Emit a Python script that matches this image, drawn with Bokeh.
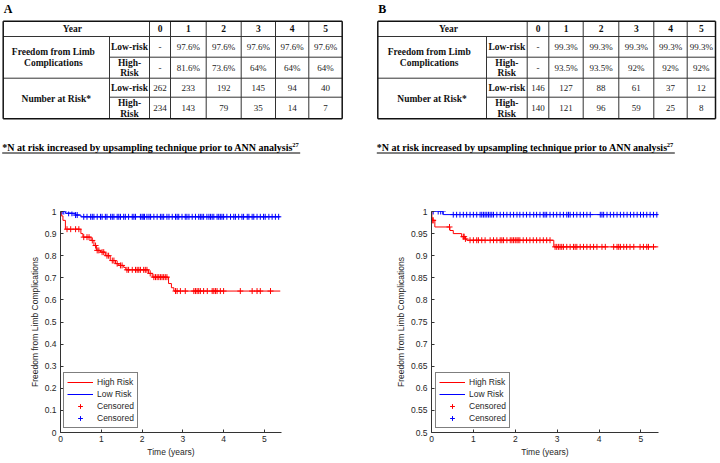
from bokeh.plotting import figure
from bokeh.models import Range1d, FixedTicker, Legend, LegendItem, CustomJSTickFormatter
from bokeh.layouts import column, row
from bokeh.embed import file_html
from bokeh.resources import INLINE
from bokeh.core.properties import value

# ---------------- data ----------------
years = [0, 1, 2, 3, 4, 5]

A_free_low = [None, 97.6, 97.6, 97.6, 97.6, 97.6]
A_free_high = [None, 81.6, 73.6, 64, 64, 64]
A_n_low = [262, 233, 192, 145, 94, 40]
A_n_high = [234, 143, 79, 35, 14, 7]

B_free_low = [None, 99.3, 99.3, 99.3, 99.3, 99.3]
B_free_high = [None, 93.5, 93.5, 92, 92, 92]
B_n_low = [146, 127, 88, 61, 37, 12]
B_n_high = [140, 121, 96, 59, 25, 8]

footnote = "*N at risk increased by upsampling technique prior to ANN analysis"
footnote_ref = "27"

# Kaplan-Meier curves (event times / survival) and censor times, panel A
A_high_t = [0, 0.02, 0.06, 0.12, 0.50, 0.55, 0.75, 0.82, 0.88, 0.98, 1.10, 1.22, 1.35, 1.43,
            1.55, 1.60, 2.16, 2.25, 2.65, 2.72, 2.78]
A_high_s = [1.0, 0.98, 0.96, 0.92, 0.90, 0.884, 0.869, 0.846, 0.824, 0.816, 0.80, 0.778, 0.764,
            0.756, 0.747, 0.736, 0.72, 0.703, 0.674, 0.655, 0.64]
A_high_end = 5.39
A_low_t = [0, 0.12, 0.37, 0.50]
A_low_s = [1.0, 0.992, 0.984, 0.976]
A_low_end = 5.39
A_high_cens = [0.16, 0.25, 0.37, 0.45, 0.57, 0.65, 0.70, 0.78, 0.86, 0.90, 0.94, 1.02, 1.06, 1.14,
               1.18, 1.27, 1.31, 1.39, 1.47, 1.51, 1.63, 1.67, 1.76, 1.84, 1.88, 1.92, 1.96, 2.04,
               2.08, 2.12, 2.20, 2.29, 2.33, 2.37, 2.41, 2.45, 2.49, 2.53, 2.57, 2.61, 2.82, 2.86,
               2.94, 3.06, 3.27, 3.31, 3.35, 3.39, 3.43, 3.51, 3.60, 3.72, 3.76, 3.80, 3.84, 3.92,
               4.00, 4.41, 4.70, 4.82, 4.90, 5.15]
A_low_cens = [0.04, 0.08, 0.20, 0.28, 0.37, 0.41, 0.57, 0.65, 0.74, 0.78, 0.82, 0.90, 0.98, 1.02,
              1.10, 1.14, 1.23, 1.27, 1.31, 1.39, 1.43, 1.47, 1.55, 1.59, 1.67, 1.76, 1.80, 1.84,
              1.96, 2.00, 2.03, 2.06, 2.12, 2.17, 2.21, 2.29, 2.37, 2.45, 2.49, 2.53, 2.61, 2.66,
              2.74, 2.82, 2.86, 2.90, 2.98, 3.06, 3.10, 3.15, 3.23, 3.31, 3.39, 3.43, 3.47, 3.51,
              3.59, 3.64, 3.68, 3.72, 3.76, 3.84, 3.88, 3.92, 3.96, 4.00, 4.08, 4.17, 4.25, 4.29,
              4.37, 4.45, 4.49, 4.58, 4.62, 4.70, 4.74, 4.82, 4.90, 4.98, 5.02, 5.11, 5.19, 5.27,
              5.35]

# panel B
B_high_t = [0, 0.01, 0.08, 0.44, 0.52, 0.72, 0.80, 0.84, 2.92]
B_high_s = [1.0, 0.98, 0.965, 0.957, 0.95, 0.943, 0.938, 0.935, 0.92]
B_high_end = 5.42
B_low_t = [0, 0.28]
B_low_s = [1.0, 0.993]
B_low_end = 5.42
B_high_cens = [0.03, 0.04, 0.43, 0.76, 0.78, 0.81, 0.92, 1.00, 1.08, 1.12, 1.20, 1.28, 1.40, 1.48,
               1.56, 1.64, 1.68, 1.72, 1.80, 1.88, 1.92, 1.96, 2.00, 2.04, 2.07, 2.11, 2.19, 2.27,
               2.35, 2.43, 2.51, 2.59, 2.67, 2.75, 2.83, 2.95, 2.99, 3.03, 3.07, 3.11, 3.15, 3.23,
               3.31, 3.39, 3.43, 3.47, 3.55, 3.63, 3.71, 3.79, 3.87, 3.95, 4.07, 4.15, 4.35, 4.43,
               4.47, 4.51, 4.59, 4.66, 4.74, 4.83, 4.98, 5.06, 5.14, 5.18, 5.30]
B_low_cens = [0.04, 0.16, 0.22, 0.27, 0.52, 0.60, 0.68, 0.76, 0.84, 0.92, 1.00, 1.08, 1.16, 1.20,
              1.24, 1.28, 1.32, 1.36, 1.40, 1.44, 1.48, 1.56, 1.64, 1.72, 1.80, 1.88, 1.96, 2.04,
              2.11, 2.19, 2.27, 2.35, 2.44, 2.51, 2.59, 2.67, 2.71, 2.75, 2.83, 2.91, 2.99, 3.07,
              3.15, 3.23, 3.27, 3.31, 3.39, 3.47, 3.55, 3.63, 3.71, 3.79, 4.03, 4.07, 4.11, 4.19,
              4.27, 4.35, 4.43, 4.51, 4.59, 4.67, 4.75, 4.83, 4.91, 4.99, 5.06, 5.14, 5.22, 5.30,
              5.38]

A_yticks = [0, 0.1, 0.2, 0.3, 0.4, 0.5, 0.6, 0.7, 0.8, 0.9, 1]
B_yticks = [0.5, 0.55, 0.6, 0.65, 0.7, 0.75, 0.8, 0.85, 0.9, 0.95, 1]
x_ticks = [0, 1, 2, 3, 4, 5]

# ---------------- styles ----------------
SERIF = value("Liberation Serif")
SANS = "Liberation Sans"
TXT = "#262626"

# ---------------- top figure: tables ----------------
top = figure(width=720, height=160, x_range=Range1d(0, 720), y_range=Range1d(160, 0),
             output_backend="svg", toolbar_location=None, min_border=0,
             x_axis_location=None, y_axis_location=None)
top.xgrid.visible = False
top.ygrid.visible = False
top.outline_line_color = None

row_edges = [20.7, 36, 56.7, 77.7, 96.7, 118.3]
A_cols = [2.7, 109, 149, 170, 205.7, 240.7, 275, 308.3, 341.7]
B_cols = [377.3, 486, 526.7, 548.3, 582.7, 618.3, 653.3, 686.7, 715]


def fmt_pct(v):
    return "-" if v is None else f"{v:g}%"


def draw_table(cols, letter, free_low, free_high, n_low, n_high):
    r = row_edges
    x0s, y0s, x1s, y1s = [], [], [], []
    for yy, start in [(r[1], cols[0]), (r[2], cols[1]), (r[3], cols[0]), (r[4], cols[1])]:
        x0s.append(start); x1s.append(cols[-1]); y0s.append(yy); y1s.append(yy)
    for i, xx in enumerate(cols[1:-1], start=1):
        top_y = r[1] if i == 1 else r[0]
        x0s.append(xx); x1s.append(xx); y0s.append(top_y); y1s.append(r[5])
    top.segment(x0s, y0s, x1s, y1s, line_color="#333333", line_width=1)
    top.segment([cols[0], cols[0], cols[0], cols[-1]], [r[0], r[5], r[0], r[0]],
                [cols[-1], cols[-1], cols[0], cols[-1]], [r[0], r[5], r[5], r[5]],
                line_color="#111111", line_width=1.5)

    cx = [(cols[i] + cols[i + 1]) / 2 for i in range(len(cols) - 1)]
    rc = [(r[i] + r[i + 1]) / 2 for i in range(len(r) - 1)]

    bx, by, bt = [], [], []
    bx.append((cols[0] + cols[2]) / 2 - 4); by.append(rc[0]); bt.append("Year")
    for i, yv in enumerate(years):
        bx.append(cx[2 + i]); by.append(rc[0]); bt.append(str(yv))
    bx += [cx[0] - 3, cx[0] - 3]; by += [(r[1] + r[3]) / 2 - 5.5, (r[1] + r[3]) / 2 + 6]
    bt += ["Freedom from Limb", "Complications"]
    bx.append(cx[0]); by.append((r[3] + r[5]) / 2); bt.append("Number at Risk*")
    for k in (1, 3):
        bx.append(cx[1]); by.append(rc[k]); bt.append("Low-risk")
        bx += [cx[1], cx[1]]; by += [rc[k + 1] - 5, rc[k + 1] + 5.5]; bt += ["High-", "Risk"]
    top.text(bx, by, bt, text_font=SERIF, text_font_size="9.5px", text_font_style="bold",
             text_align="center", text_baseline="middle", text_color="#111111")

    vx, vy, vt = [], [], []
    for i in range(len(years)):
        vx += [cx[2 + i], cx[2 + i]]
        vy += [rc[1], rc[2]]
        vt += [fmt_pct(free_low[i]), fmt_pct(free_high[i])]
    top.text(vx, vy, vt, text_font=SERIF, text_font_size="9px",
             text_align="center", text_baseline="middle", text_color="#222222")
    nx, ny, nt = [], [], []
    for i in range(len(years)):
        nx += [cx[2 + i], cx[2 + i]]
        ny += [rc[3], rc[4]]
        nt += [str(n_low[i]), str(n_high[i])]
    top.text(nx, ny, nt, text_font=SERIF, text_font_size="9px",
             text_align="center", text_baseline="middle", text_color="#222222")

    top.text([cols[0] + 0.5], [8], [letter], text_font=SERIF, text_font_size="12px",
             text_font_style="bold", text_align="left", text_baseline="middle", text_color="black")

    fx = cols[0] - 1
    top.text([fx], [147], [footnote], text_font=SERIF, text_font_size="10px",
             text_font_style="bold", text_align="left", text_baseline="middle", text_color="black")
    top.text([fx + 290], [144], [footnote_ref], text_font=SERIF, text_font_size="6.5px",
             text_font_style="bold", text_align="left", text_baseline="middle", text_color="black")
    top.segment([fx], [152.5], [fx + 298], [152.5], line_color="black", line_width=1)


draw_table(A_cols, "A", A_free_low, A_free_high, A_n_low, A_n_high)
draw_table(B_cols, "B", B_free_low, B_free_high, B_n_low, B_n_high)


# ---------------- KM plots ----------------
def surv_at(ts, ss, t):
    val = ss[0]
    for ti, si in zip(ts, ss):
        if ti <= t:
            val = si
    return val


def km_plot(width, height, mbl, mbr, mbt, mbb, yrange, yticks, hi_t, hi_s, hi_end, lo_t, lo_s,
            lo_end, hi_c, lo_c, leg_loc):
    p = figure(width=width, height=height, x_range=Range1d(0, 5.42), y_range=Range1d(*yrange),
               output_backend="svg", toolbar_location=None,
               min_border_left=mbl, min_border_right=mbr, min_border_top=mbt, min_border_bottom=mbb)
    p.xgrid.visible = False
    p.ygrid.visible = False
    p.outline_line_color = None
    p.xaxis.ticker = FixedTicker(ticks=x_ticks)
    p.yaxis.ticker = FixedTicker(ticks=yticks)
    fmt = CustomJSTickFormatter(code="return String(Math.round(tick*100)/100)")
    p.xaxis.formatter = fmt
    p.yaxis.formatter = fmt
    for ax in (p.xaxis, p.yaxis):
        ax.major_tick_in = 3
        ax.major_tick_out = 0
        ax.minor_tick_line_color = None
        ax.axis_line_color = "#333333"
        ax.major_tick_line_color = "#333333"
        ax.major_label_text_font = SANS
        ax.major_label_text_font_size = "8.5px"
        ax.major_label_text_color = TXT
        ax.axis_label_text_font = SANS
        ax.axis_label_text_font_size = "8.5px"
        ax.axis_label_text_font_style = "normal"
        ax.axis_label_text_color = TXT
    p.xaxis.major_label_standoff = 3
    p.yaxis.major_label_standoff = 4
    p.xaxis.axis_label_standoff = 2
    p.yaxis.axis_label_standoff = 2
    p.xaxis.axis_label = "Time (years)"
    p.yaxis.axis_label = "Freedom from Limb Complications"

    r_hi = p.step(hi_t + [hi_end], hi_s + [hi_s[-1]], mode="after", line_color="red", line_width=1)
    r_lo = p.step(lo_t + [lo_end], lo_s + [lo_s[-1]], mode="after", line_color="blue", line_width=1)
    r_hc = p.scatter(hi_c, [surv_at(hi_t, hi_s, t) for t in hi_c], marker="cross", size=6,
                     line_color="red", line_width=1)
    r_lc = p.scatter(lo_c, [surv_at(lo_t, lo_s, t) for t in lo_c], marker="cross", size=6,
                     line_color="blue", line_width=1)

    leg = Legend(items=[LegendItem(label="High Risk", renderers=[r_hi]),
                        LegendItem(label="Low Risk", renderers=[r_lo]),
                        LegendItem(label="Censored", renderers=[r_hc]),
                        LegendItem(label="Censored", renderers=[r_lc])],
                 location=leg_loc, margin=0, padding=3, spacing=0,
                 glyph_width=26, glyph_height=12, label_height=12, label_standoff=4,
                 label_text_font=SANS, label_text_font_size="8.5px", label_text_color=TXT,
                 border_line_color="black", border_line_width=1, background_fill_alpha=1)
    p.add_layout(leg)
    return p


pA = km_plot(360, 303, 60, 79, 51, 31, (0, 1), A_yticks, A_high_t, A_high_s, A_high_end,
             A_low_t, A_low_s, A_low_end, A_high_cens, A_low_cens, (3, 4))
pB = km_plot(360, 303, 71, 62, 51, 27, (0.5, 1), B_yticks, B_high_t, B_high_s, B_high_end,
             B_low_t, B_low_s, B_low_end, B_high_cens, B_low_cens, (4, 4))

p = column(top, row(pA, pB))
open("out.html", "w").write(file_html(p, INLINE))
